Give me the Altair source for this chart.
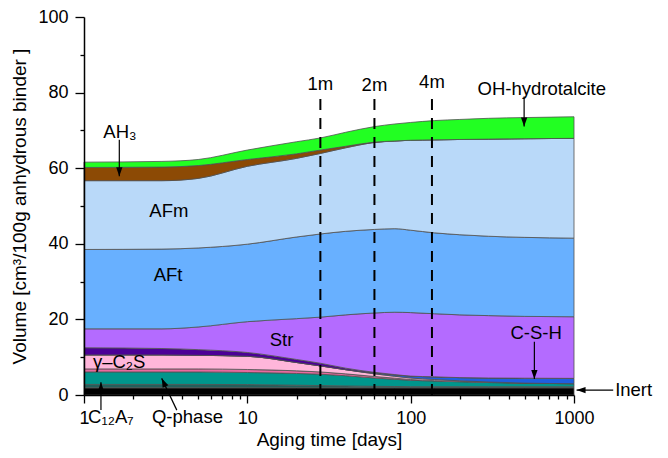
import altair as alt
import pandas as pd

# ---------------- data ----------------
days = [1, 3, 5, 10, 20, 28, 40, 60, 80, 100, 140, 200, 300, 500, 1000]

phases = ["Inert", "C12A7", "Q-phase", "C2AS", "γ-C2S", "C-S-H", "CA",
          "Str", "AFt", "AFm", "AH3", "OH-hydrotalcite"]
colors = ["#000000", "#245f5b", "#00968c", "#e8699f", "#ffb6da", "#1f5fe0",
          "#4b0096", "#b46bff", "#68b0ff", "#b9d9f9", "#8c4a05", "#22ff22"]

inert = [1.9, 1.9, 1.9, 1.9, 1.9, 1.9, 1.9, 1.9, 1.9, 1.9, 1.9, 1.9, 1.9, 1.9, 1.9]
c12a7 = [0.9, 0.9, 0.9, 0.85, 0.7, 0.6, 0.5, 0.4, 0.35, 0.3, 0.3, 0.3, 0.3, 0.3, 0.3]
qphase = [3.3, 3.3, 3.3, 3.2, 3.1, 3.0, 2.7, 2.2, 1.9, 1.7, 1.5, 1.3, 1.1, 0.9, 0.8]
c2as = [0.8, 0.8, 0.8, 0.8, 0.7, 0.6, 0.5, 0.4, 0.3, 0.2, 0.1, 0.1, 0.1, 0.05, 0.0]
gc2s = [3.7, 3.7, 3.6, 3.5, 2.2, 1.6, 1.1, 0.7, 0.5, 0.4, 0.3, 0.15, 0.05, 0.0, 0.0]
csh = [0.0, 0.0, 0.0, 0.0, 0.0, 0.0, 0.0, 0.2, 0.35, 0.5, 0.7, 0.85, 1.05, 1.3, 1.4]
ca = [1.9, 1.7, 1.5, 1.0, 0.8, 0.7, 0.4, 0.2, 0.1, 0.0, 0.0, 0.0, 0.0, 0.0, 0.0]
strat = [5.0, 5.2, 6.0, 8.15, 10.8, 12.2, 14.1, 15.7, 16.5, 16.8, 16.7, 16.6, 16.5, 16.35, 16.3]
aft = [21.0, 21.1, 20.9, 20.5, 21.6, 22.0, 22.1, 22.1, 22.1, 21.8, 21.4, 21.2, 21.0, 20.9, 20.8]
afm = [18.2, 18.1, 18.4, 20.6, 20.8, 21.3, 22.1, 23.0, 23.2, 23.8, 24.6, 25.2, 25.7, 26.1, 26.4]
ah3 = [3.5, 3.6, 3.4, 1.8, 1.2, 0.9, 0.4, 0.1, 0.0, 0.0, 0.0, 0.0, 0.0, 0.0, 0.0]
hydrotalcite = [1.4, 1.5, 1.6, 2.5, 3.2, 3.2, 3.7, 4.1, 4.5, 4.7, 5.1, 5.3, 5.5, 5.6, 5.7]

volumes = [inert, c12a7, qphase, c2as, gc2s, csh, ca, strat, aft, afm, ah3, hydrotalcite]

# axis ticks
x_major = [1, 10, 100, 1000]
x_minor = [2, 3, 4, 5, 6, 7, 8, 9, 20, 30, 40, 50, 60, 70, 80, 90,
           200, 300, 400, 500, 600, 700, 800, 900]
y_major = [0, 20, 40, 60, 80, 100]
y_minor = [10, 30, 50, 70, 90]

# month markers
month_days = [28, 60, 135]
month_labels = ["1m", "2m", "4m"]
month_top = [79.4, 78.9, 80.1]
month_label_v = [82.3, 82.0, 82.9]

# annotation texts (centered)
ann_labels = ["AH₃", "OH-hydrotalcite", "AFm", "AFt", "Str", "γ–C₂S", "C-S-H", "C₁₂A₇", "Q-phase"]
ann_t = [1.66, 635, 3.31, 3.27, 16.2, 1.64, 586, 1.46, 4.30]
ann_v = [69.7, 80.9, 48.7, 31.7, 14.6, 8.8, 16.5, -5.7, -5.7]

# left-aligned text
inert_label = ["Inert"]
inert_t = [1786]
inert_v = [1.3]

# arrows: tail (t1, v1) -> tip (t2, v2)
arr_t1 = [1.645, 495, 572, 1738, 1.27, 3.70]
arr_v1 = [67.5, 79.0, 14.1, 1.3, -4.0, -4.0]
arr_t2 = [1.645, 495, 572, 1037, 1.27, 2.99]
arr_v2 = [57.9, 71.0, 4.2, 1.3, 3.4, 4.4]
arr_angle = [180, 180, 180, 270, 0, 335]

# ---------------- tables ----------------
rows = []
for k, (p, vals) in enumerate(zip(phases, volumes)):
    for t, v in zip(days, vals):
        rows.append({"t": t, "vol": v, "phase": p, "ord": k})
df = pd.DataFrame(rows)

dash_df = pd.DataFrame({"t": month_days, "lab": month_labels, "top": month_top,
                        "lv": month_label_v, "base": [0.0] * len(month_days)})
ann_df = pd.DataFrame({"t": ann_t, "v": ann_v, "lab": ann_labels})
inert_df = pd.DataFrame({"t": inert_t, "v": inert_v, "lab": inert_label})
arr_df = pd.DataFrame({"t1": arr_t1, "v1": arr_v1, "t2": arr_t2, "v2": arr_v2, "ang": arr_angle})

# ---------------- chart ----------------
FONT = "Liberation Sans"
FS = 18.5
x_scale = alt.Scale(type="log", domain=[1, 1000], nice=False)
y_scale = alt.Scale(domain=[0, 100], nice=False, zero=False)

common = dict(grid=False, zindex=1, tickColor="black", tickWidth=1.3)

x_axis = alt.Axis(values=x_major, format="d", tickSize=8, orient="bottom",
                  title="Aging time [days]", labelPadding=6, titlePadding=3,
                  labelFlush=False, labelOverlap=False,
                  domainColor="black", domainWidth=1.5, **common)
y_axis = alt.Axis(values=y_major, format="d", tickSize=9, orient="left",
                  title="Volume [cm³/100g anhydrous binder ]", labelPadding=7,
                  titlePadding=8, labelFlush=False, labelOverlap=False,
                  domainColor="black", domainWidth=1.5, **common)
x_axis_minor = alt.Axis(values=x_minor, tickSize=4, orient="bottom", labels=False,
                        title=None, domain=False, **common)
y_axis_minor = alt.Axis(values=y_minor, tickSize=4, orient="left", labels=False,
                        title=None, domain=False, **common)

areas = alt.Chart(df).mark_area(
    interpolate="monotone", stroke="#505050", strokeWidth=0.8
).encode(
    x=alt.X("t:Q", scale=x_scale, axis=x_axis),
    y=alt.Y("vol:Q", stack="zero", scale=y_scale, axis=y_axis),
    color=alt.Color("phase:N", scale=alt.Scale(domain=phases, range=colors), legend=None),
    order=alt.Order("ord:Q", sort="ascending"),
)

rules = alt.Chart(dash_df).mark_rule(color="black", strokeWidth=2, strokeDash=[11, 8]).encode(
    x=alt.X("t:Q", scale=x_scale, axis=x_axis_minor),
    y=alt.Y("base:Q", scale=y_scale, axis=y_axis_minor),
    y2="top:Q",
)
month_text = alt.Chart(dash_df).mark_text(font=FONT, fontSize=FS, color="black", baseline="middle").encode(
    x=alt.X("t:Q", scale=x_scale, axis=None),
    y=alt.Y("lv:Q", scale=y_scale, axis=None),
    text="lab:N",
)
ann_text = alt.Chart(ann_df).mark_text(font=FONT, fontSize=FS, color="black", baseline="middle", align="center").encode(
    x=alt.X("t:Q", scale=x_scale, axis=None),
    y=alt.Y("v:Q", scale=y_scale, axis=None),
    text="lab:N",
)
inert_text = alt.Chart(inert_df).mark_text(font=FONT, fontSize=FS, color="black", baseline="middle", align="left").encode(
    x=alt.X("t:Q", scale=x_scale, axis=None),
    y=alt.Y("v:Q", scale=y_scale, axis=None),
    text="lab:N",
)
shafts = alt.Chart(arr_df).mark_rule(color="black", strokeWidth=1.2).encode(
    x=alt.X("t1:Q", scale=x_scale, axis=None),
    y=alt.Y("v1:Q", scale=y_scale, axis=None),
    x2="t2:Q",
    y2="v2:Q",
)
heads = alt.Chart(arr_df).mark_point(
    shape="M0,0L0.7,2L-0.7,2Z", filled=True, size=81, color="black", opacity=1, strokeWidth=0
).encode(
    x=alt.X("t2:Q", scale=x_scale, axis=None),
    y=alt.Y("v2:Q", scale=y_scale, axis=None),
    angle=alt.Angle("ang:Q", scale=None),
)

chart = alt.layer(areas, rules, month_text, ann_text, inert_text, shafts, heads).resolve_axis(
    x="independent", y="independent"
).properties(
    width=490, height=378,
    autosize=alt.AutoSizeParams(type="none"),
    padding={"left": 84, "top": 17, "right": 94, "bottom": 63},
).configure(font=FONT).configure_view(stroke=None).configure_axis(
    labelFont=FONT, titleFont=FONT, labelFontSize=18, titleFontSize=19,
    labelColor="black", titleColor="black", titleFontWeight="normal",
)

chart.save("out.html", embed_options={"renderer": "svg", "actions": False})
